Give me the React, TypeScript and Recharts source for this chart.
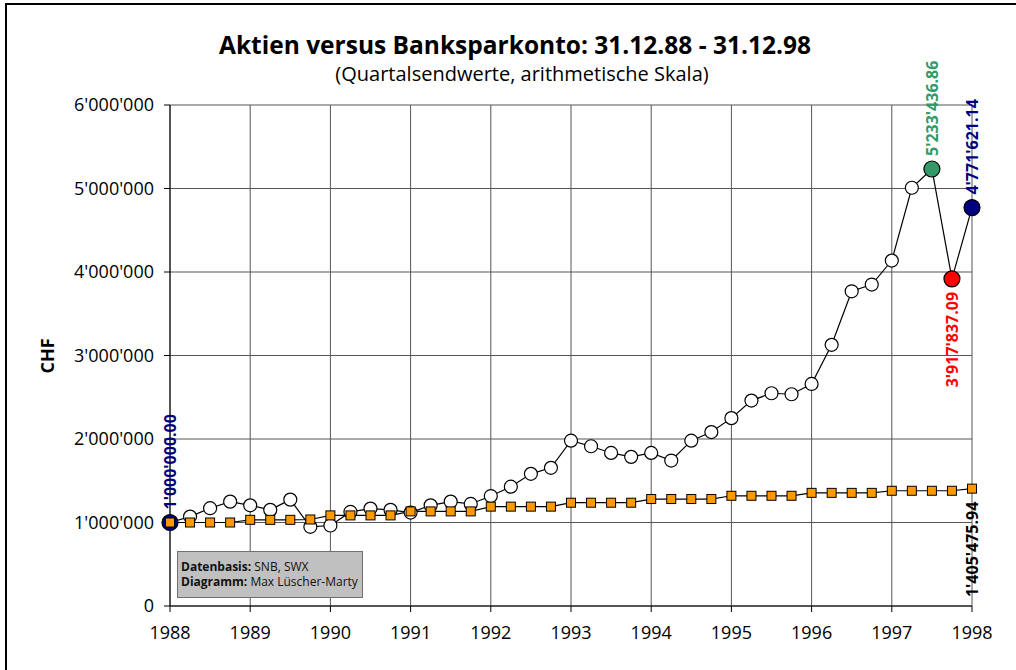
import { LineChart, Line, XAxis, YAxis, CartesianGrid, LabelList } from "recharts";

// quarter-end values, 31.12.88 - 31.12.98 (CHF)
const years = [1988, 1989, 1990, 1991, 1992, 1993, 1994, 1995, 1996, 1997, 1998];
const yTicks = [0, 1000000, 2000000, 3000000, 4000000, 5000000, 6000000];

const stockValues = [
  1000000, 1071000, 1171000, 1250000, 1206000, 1151000, 1274000, 948000, 964000,
  1127000, 1167000, 1151000, 1119000, 1206000, 1250000, 1222000, 1317000, 1429000,
  1583000, 1655000, 1980000, 1913000, 1833000, 1786000, 1833000, 1742000, 1980000,
  2083000, 2250000, 2460000, 2548000, 2536000, 2659000, 3128000, 3769000, 3850000,
  4137000, 5009000, 5233436.86, 3917837.09, 4771621.14,
];

const bankValues = [
  1000000, 1000000, 1000000, 1000000, 1032000, 1032000, 1032000, 1036000, 1085000,
  1085000, 1085000, 1085000, 1133000, 1133000, 1133000, 1133000, 1190000, 1190000,
  1190000, 1190000, 1237000, 1237000, 1237000, 1237000, 1281000, 1281000, 1281000,
  1281000, 1320000, 1320000, 1320000, 1320000, 1355000, 1355000, 1355000, 1355000,
  1380000, 1380000, 1380000, 1380000, 1405475.94,
];

const data = stockValues.map((v, i) => ({
  t: years[0] + i / 4,
  aktien: v,
  bank: bankValues[i],
}));

const FONT = "'Open Sans', 'DejaVu Sans', sans-serif";

// highlighted points: colour + label side
const stockMarks: Record<number, { color: string; side: "up" | "down" }> = {
  0: { color: "#000080", side: "up" },
  38: { color: "#339966", side: "up" },
  39: { color: "#ff0000", side: "down" },
  40: { color: "#000080", side: "up" },
};
const bankMarks: Record<number, { color: string; side: "up" | "down" }> = {
  40: { color: "#000000", side: "down" },
};

function swiss(v: number, dec = 0) {
  const [int, frac] = v.toFixed(dec).split(".");
  const s = int.replace(/\B(?=(\d{3})+(?!\d))/g, "'");
  return frac ? `${s}.${frac}` : s;
}

function StockDot(props: any) {
  const { cx, cy, index } = props;
  const m = stockMarks[index];
  if (m) {
    return <circle key={`s${index}`} cx={cx} cy={cy} r={8} fill={m.color} stroke="#000" strokeWidth={1.2} />;
  }
  return <circle key={`s${index}`} cx={cx} cy={cy} r={6.5} fill="#fff" stroke="#000" strokeWidth={1.2} />;
}

function BankDot(props: any) {
  const { cx, cy, index } = props;
  return (
    <rect key={`b${index}`} x={cx - 4.5} y={cy - 4.5} width={9} height={9} fill="#ff9900" stroke="#000" strokeWidth={1} />
  );
}

function makeLabel(marks: typeof stockMarks) {
  return (props: any) => {
    const { x, y, index, value } = props;
    const m = marks[index];
    if (!m) return null;
    const ty = m.side === "up" ? y - 13 : y + 13;
    return (
      <text
        key={`l${index}`}
        x={x}
        y={ty}
        transform={`rotate(-90 ${x} ${ty})`}
        textAnchor={m.side === "up" ? "start" : "end"}
        dominantBaseline="central"
        fill={m.color}
        fontFamily={FONT}
        fontWeight={700}
        fontSize={16}
      >
        {swiss(Number(value), 2)}
      </text>
    );
  };
}

export default function App() {
  const tickStyle = { fontFamily: FONT, fontSize: 18, fill: "#000" };
  return (
    <div style={{ position: "absolute", left: 0, top: 0, width: 1016, height: 670, overflow: "hidden", background: "#fff" }}>
      <div style={{ position: "absolute", left: 5, top: 3, width: 1020, height: 700, border: "2px solid #000" }} />
      <div
        style={{
          position: "absolute", left: 515, top: 28, transform: "translateX(-50%)", whiteSpace: "nowrap",
          fontFamily: FONT, fontWeight: 700, fontSize: 24.5,
        }}
      >
        Aktien versus Banksparkonto: 31.12.88 - 31.12.98
      </div>
      <div
        style={{
          position: "absolute", left: 522, top: 60, transform: "translateX(-50%)", whiteSpace: "nowrap",
          fontFamily: FONT, fontSize: 20,
        }}
      >
        (Quartalsendwerte, arithmetische Skala)
      </div>
      <div
        style={{
          position: "absolute", left: 47, top: 356, transform: "translate(-50%, -50%) rotate(-90deg)",
          fontFamily: FONT, fontWeight: 700, fontSize: 18,
        }}
      >
        CHF
      </div>
      <div style={{ position: "absolute", left: 0, top: 0 }}>
        <LineChart width={1016} height={670} data={data} margin={{ top: 105, right: 44, bottom: 0, left: 0 }}>
          <CartesianGrid stroke="#555" strokeWidth={1} />
          <XAxis
            dataKey="t"
            type="number"
            domain={[1988, 1998]}
            ticks={years}
            height={64}
            tick={tickStyle}
            tickSize={6}
            tickMargin={14}
            stroke="#000"
          />
          <YAxis
            domain={[0, 6000000]}
            ticks={yTicks}
            width={170}
            tick={tickStyle}
            tickSize={6}
            tickMargin={10}
            tickFormatter={(v: number) => swiss(v)}
            stroke="#000"
          />
          <Line dataKey="aktien" type="linear" stroke="#000" strokeWidth={1.2} dot={StockDot} isAnimationActive={false}>
            <LabelList dataKey="aktien" content={makeLabel(stockMarks)} />
          </Line>
          <Line dataKey="bank" type="linear" stroke="#000" strokeWidth={1.2} dot={BankDot} isAnimationActive={false}>
            <LabelList dataKey="bank" content={makeLabel(bankMarks)} />
          </Line>
        </LineChart>
      </div>
      <div
        style={{
          position: "absolute", left: 177, top: 551, width: 186, height: 47, background: "#c0c0c0",
          border: "1px solid #707070", fontFamily: FONT, fontSize: 12, lineHeight: "15px", whiteSpace: "nowrap",
          padding: "7px 0 0 3px", boxSizing: "border-box", color: "#111",
        }}
      >
        <div><b>Datenbasis:</b> SNB, SWX</div>
        <div><b>Diagramm:</b> Max Lüscher-Marty</div>
      </div>
    </div>
  );
}
